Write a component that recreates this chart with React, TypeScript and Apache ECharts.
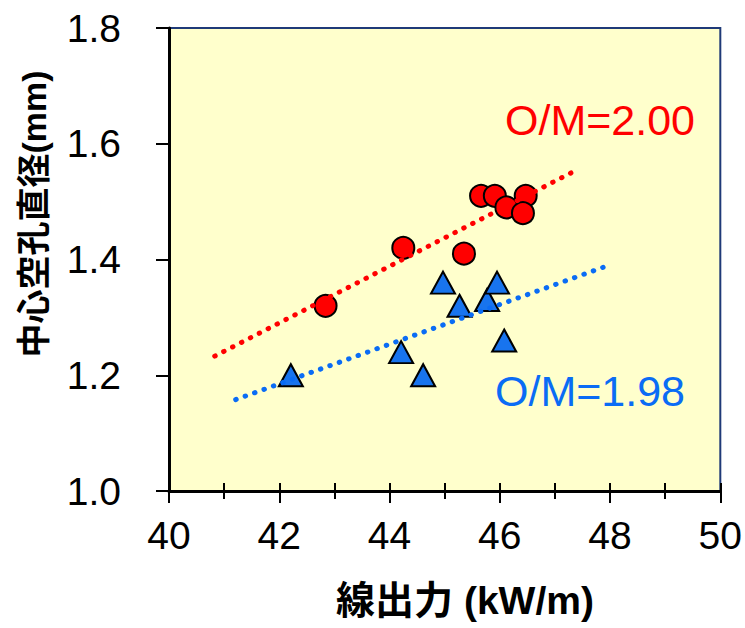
import React, { useEffect, useRef } from "react";
import * as echarts from "echarts";

// 線出力 (kW/m), 中心空孔直径 (mm)
const om200X = [42.84, 44.25, 45.35, 45.66, 45.91, 46.12, 46.47, 46.42];
const om200Y = [1.32, 1.42, 1.41, 1.51, 1.51, 1.49, 1.51, 1.48];
const om198X = [42.21, 44.21, 44.61, 44.97, 45.27, 45.77, 45.95, 46.08];
const om198Y = [1.2, 1.24, 1.2, 1.36, 1.32, 1.33, 1.36, 1.26];
const trend200X = [40.83, 47.32];
const trend200Y = [1.233, 1.551];
const trend198X = [41.21, 47.89];
const trend198Y = [1.158, 1.387];
const label200 = "O/M=2.00";
const label198 = "O/M=1.98";
const xTitle = "線出力 (kW/m)";
const yTitle = "中心空孔直径(mm)";

const zip = (xs: number[], ys: number[]) => xs.map((x, i) => [x, ys[i]]);

const FONT = "'Liberation Sans', Arial, 'Noto Sans CJK JP', sans-serif";
const RED = "#FF0000";
const BLUE = "#0A6CF5";

export default function App() {
  const ref = useRef<HTMLDivElement>(null);
  useEffect(() => {
    if (!ref.current) return;
    const chart = echarts.init(ref.current, undefined, { renderer: "svg" });
    const xCommon = {
      type: "value" as const,
      min: 40,
      max: 50,
      interval: 2,
      position: "bottom" as const,
      splitLine: { show: false },
    };
    chart.setOption({
      animation: false,
      grid: {
        left: 169,
        right: 23,
        top: 28,
        bottom: 137,
        show: true,
        backgroundColor: "#FFFFCC",
        borderColor: "#1F3A78",
        borderWidth: 2,
      },
      xAxis: [
        {
          ...xCommon,
          axisLine: { show: true, lineStyle: { color: "#000", width: 3 } },
          axisTick: { show: true, inside: false, length: 12, lineStyle: { color: "#000", width: 2 } },
          minorTick: { show: true, splitNumber: 2, length: 8, lineStyle: { color: "#000", width: 2 } },
          axisLabel: { fontSize: 39, color: "#000", fontFamily: FONT, margin: 25 },
        },
        {
          ...xCommon,
          axisLine: { show: false },
          axisTick: { show: true, inside: true, length: 8, lineStyle: { color: "#000", width: 2 } },
          minorTick: { show: true, splitNumber: 2, length: 8, lineStyle: { color: "#000", width: 2 } },
          axisLabel: { show: false },
        },
      ],
      yAxis: {
        type: "value",
        min: 1.0,
        max: 1.8,
        interval: 0.2,
        splitLine: { show: false },
        axisLine: { show: true, lineStyle: { color: "#000", width: 3 } },
        axisTick: { show: true, inside: false, length: 13, lineStyle: { color: "#000", width: 2 } },
        axisLabel: {
          fontSize: 39,
          color: "#000",
          fontFamily: FONT,
          margin: 48,
          formatter: (v: number) => v.toFixed(1),
        },
      },
      series: [
        {
          type: "scatter",
          data: zip(om200X, om200Y),
          symbol: "circle",
          symbolSize: 22,
          itemStyle: { color: RED, borderColor: "#000", borderWidth: 2, opacity: 1 },
          z: 2,
        },
        {
          type: "scatter",
          data: zip(om198X, om198Y),
          symbol: "triangle",
          symbolSize: [24, 22],
          itemStyle: { color: "#1874EE", borderColor: "#000", borderWidth: 2, opacity: 1 },
          z: 2,
        },
        {
          type: "line",
          data: zip(trend200X, trend200Y),
          showSymbol: false,
          lineStyle: { color: RED, width: 5, type: [0.5, 9.5], cap: "round" },
          z: 3,
        },
        {
          type: "line",
          data: zip(trend198X, trend198Y),
          showSymbol: false,
          lineStyle: { color: BLUE, width: 5, type: [0.5, 9.5], cap: "round" },
          z: 3,
        },
      ],
      graphic: [
        {
          type: "text",
          x: 600,
          y: 120,
          style: {
            text: label200,
            fill: RED,
            font: `43px ${FONT}`,
            textAlign: "center",
            textVerticalAlign: "middle",
          },
          z: 10,
        },
        {
          type: "text",
          x: 590,
          y: 391,
          style: {
            text: label198,
            fill: BLUE,
            font: `43px ${FONT}`,
            textAlign: "center",
            textVerticalAlign: "middle",
          },
          z: 10,
        },
        {
          type: "text",
          x: 465,
          y: 600,
          style: {
            text: xTitle,
            fill: "#000",
            font: `bold 39px ${FONT}`,
            textAlign: "center",
            textVerticalAlign: "middle",
          },
          z: 10,
        },
        {
          type: "text",
          x: 34,
          y: 214,
          rotation: Math.PI / 2,
          style: {
            text: yTitle,
            fill: "#000",
            font: `bold 34px ${FONT}`,
            textAlign: "center",
            textVerticalAlign: "middle",
          },
          z: 10,
        },
      ],
    });
    return () => chart.dispose();
  }, []);
  return <div ref={ref} style={{ width: 745, height: 628, position: "absolute", left: 0, top: 0 }} />;
}
